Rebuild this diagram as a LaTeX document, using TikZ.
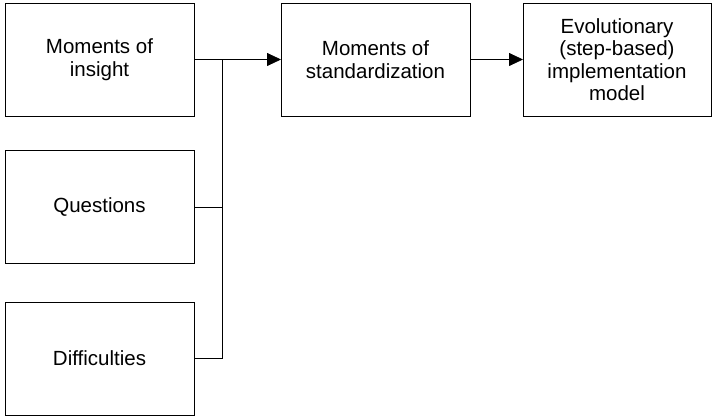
\documentclass[tikz,border=0pt]{standalone}
\usepackage{fontspec}
\setmainfont{Liberation Sans}
\usetikzlibrary{arrows.meta, positioning}

\begin{document}
\begin{tikzpicture}[
  x=1pt, y=1pt,
  font=\fontsize{20.5}{22.5}\selectfont,
  box/.style={rectangle, draw=black, line width=0.8pt, fill=white,
    minimum width=189pt, minimum height=113pt, align=center, inner sep=0pt, outer sep=0pt},
  link/.style={draw=black, line width=0.8pt},
  arr/.style={-{Triangle[length=14pt, width=13pt]}, draw=black, line width=0.8pt}
]
\useasboundingbox (0,0) rectangle (712,415);
% left column
\node[box] (insight) at (99.5,355.5) {Moments of\\insight};
\node[box, below=34.5pt of insight] (questions) {Questions};
\node[box, below=38.5pt of questions] (difficulties) {Difficulties};
% top row
\node[box, right=87pt of insight] (standard) {Moments of\\standardization};
\node[box, right=53pt of standard, minimum width=188pt] (model) {Evolutionary\\(step-based)\\implementation\\model};
% connectors
\coordinate[right=28pt of insight] (join);
\draw[link] (insight) -- (join);
\draw[link] (questions) -| (join);
\draw[link] (difficulties) -| (join);
\draw[arr] (join) -- (standard);
\draw[arr] (standard) -- (model);
\end{tikzpicture}
\end{document}
